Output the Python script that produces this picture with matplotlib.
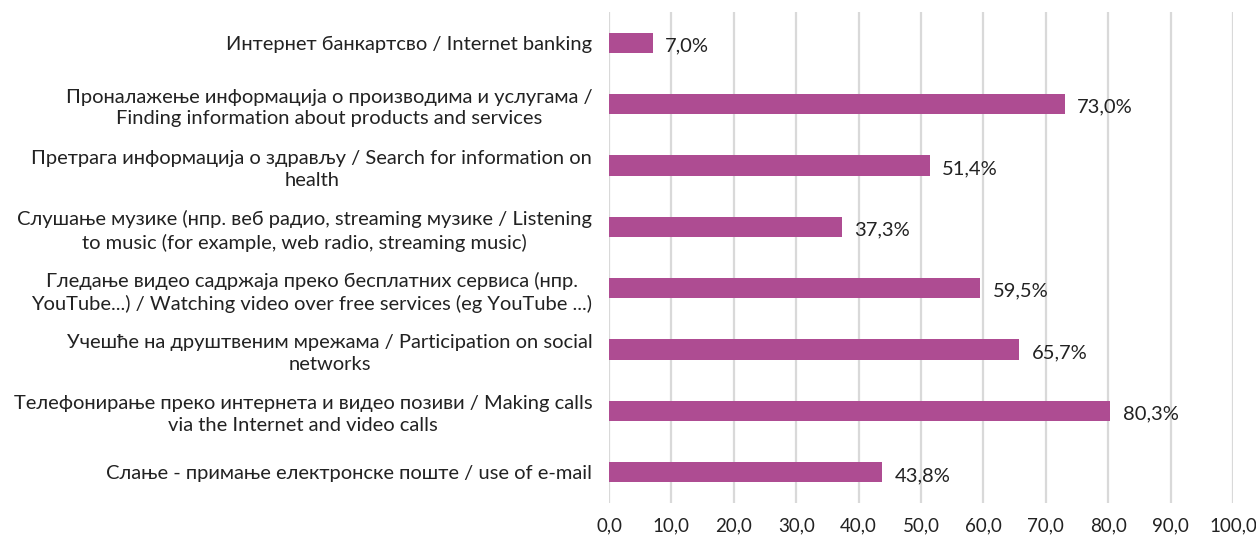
import matplotlib.pyplot as plt
from matplotlib.ticker import FuncFormatter

plt.rcParams['font.family'] = ['Lato', 'DejaVu Sans']

kategorije = [
    "Интернет банкартсво / Internet banking",
    "Проналажење информација о производима и услугама /\nFinding information about products and services",
    "Претрага информација о здрављу / Search for information on\nhealth",
    "Слушање музике (нпр. веб радио, streaming музике / Listening\nto music (for example, web radio, streaming music)",
    "Гледање видео садржаја преко бесплатних сервиса (нпр.\nYouTube...) / Watching video over free services (eg YouTube ...)",
    "Учешће на друштвеним мрежама / Participation on social\nnetworks",
    "Телефонирање преко интернета и видео позиви / Making calls\nvia the Internet and video calls",
    "Слање - примање електронске поште / use of e-mail",
]
vrednosti = [7.0, 73.0, 51.4, 37.3, 59.5, 65.7, 80.3, 43.8]
x_ticks = list(range(0, 101, 10))

boja = '#AE4C92'

fig = plt.figure(figsize=(12.56, 5.4), dpi=100)
ax = fig.add_axes([0.4849, 0.0685, 0.4968, 0.9093])

pozicije = list(range(len(kategorije)))
ax.barh(pozicije, vrednosti, height=0.33, color=boja, zorder=3)

for p, v in zip(pozicije, vrednosti):
    ax.text(v + 2.0, p + 0.05, f"{v:.1f}".replace('.', ',') + '%',
            va='center', ha='left', fontsize=14.5, color='#222222')

ax.set_yticks(pozicije)
ax.set_yticklabels(kategorije, fontsize=14.5, multialignment='center',
                   linespacing=1.35)
ax.set_ylim(len(kategorije) - 0.5, -0.5)

ax.set_xlim(0, 100)
ax.set_xticks(x_ticks)
ax.xaxis.set_major_formatter(FuncFormatter(lambda x, pos: f"{x:.1f}".replace('.', ',')))
ax.tick_params(axis='x', labelsize=13.5, length=0, pad=10, colors='#222222')
ax.tick_params(axis='y', length=0, pad=12, colors='#222222')

ax.grid(axis='x', color='#D9D9D9', linewidth=1.6, zorder=0)
for s in ax.spines.values():
    s.set_visible(False)

fig.savefig('out.png', dpi=100)
